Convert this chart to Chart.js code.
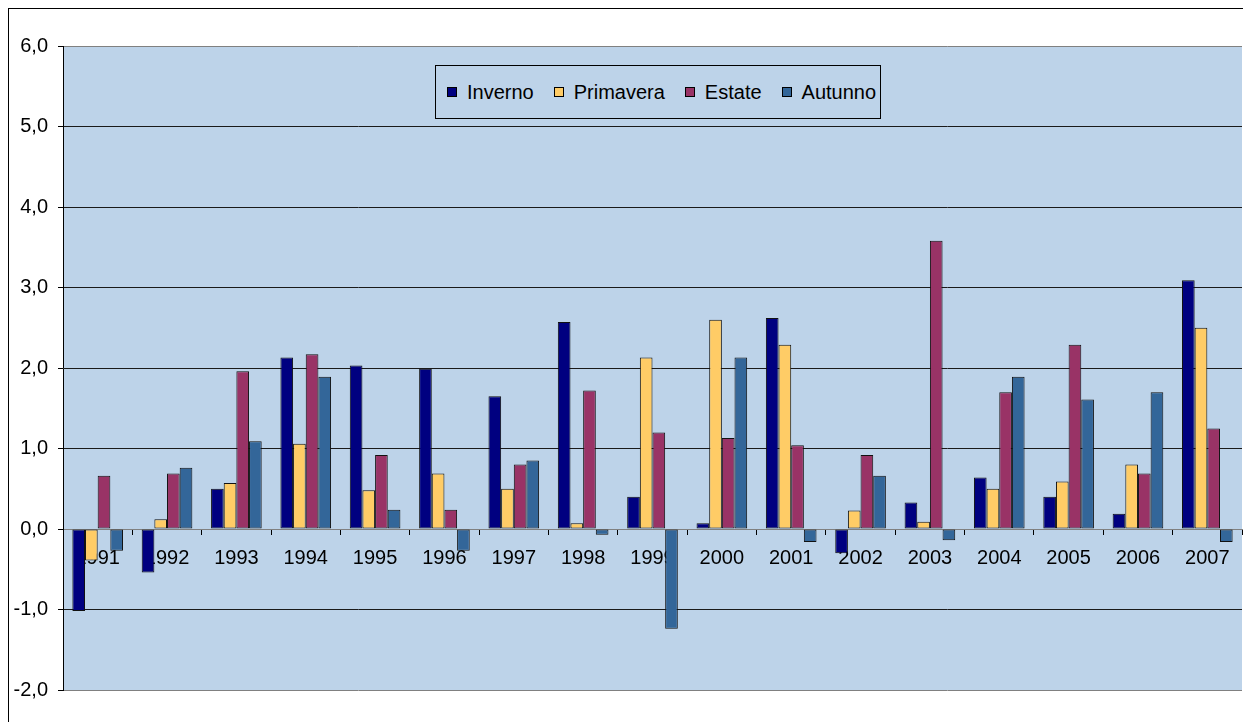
<!DOCTYPE html>
<html lang="it">
<head>
<meta charset="utf-8">
<title>Anomalie stagionali 1991-2007</title>
<script src="https://cdn.jsdelivr.net/npm/chart.js@4"></script>
<style>
  html, body { margin: 0; padding: 0; background: #fff; overflow: hidden; }
  #wrap { position: relative; width: 1243px; height: 722px; }
  #frame { position: absolute; left: 8px; top: 8px; width: 2000px; height: 2000px; border: 1px solid #000; box-sizing: border-box; }
  #chart { position: absolute; left: 0; top: 0; }
  #legend {
    position: absolute; left: 435px; top: 65px; width: 446px; height: 54px;
    box-sizing: border-box; border: 1px solid #000; background: #bdd3e9;
    display: flex; align-items: center; padding-left: 11px; gap: 20px;
    font: 20px "Liberation Sans", Arial, sans-serif; color: #000;
  }
  #legend .item { display: flex; align-items: center; gap: 10px; }
  #legend .sw { width: 10px; height: 10px; box-sizing: border-box; border: 1px solid #000; }
</style>
</head>
<body>
<div id="wrap">
  <div id="frame"></div>
  <canvas id="chart" width="1243" height="722"></canvas>
  <div id="legend"></div>
</div>
<script>
// --- Data ---
const years = ['1991', '1992', '1993', '1994', '1995', '1996', '1997', '1998', '1999',
  '2000', '2001', '2002', '2003', '2004', '2005', '2006', '2007'];

const inverno   = [-1.02, -0.54, 0.50, 2.13, 2.03, 1.99, 1.65, 2.57, 0.40, 0.07, 2.62, -0.30, 0.33, 0.64, 0.40, 0.19, 3.09];
const primavera = [-0.39, 0.12, 0.57, 1.06, 0.48, 0.69, 0.50, 0.07, 2.13, 2.60, 2.29, 0.23, 0.09, 0.50, 0.59, 0.80, 2.50];
const estate    = [0.66, 0.69, 1.96, 2.17, 0.92, 0.24, 0.80, 1.72, 1.20, 1.13, 1.04, 0.92, 3.58, 1.70, 2.29, 0.69, 1.25];
const autunno   = [-0.27, 0.76, 1.09, 1.89, 0.24, -0.27, 0.85, -0.07, -1.24, 2.13, -0.16, 0.66, -0.14, 1.89, 1.61, 1.70, -0.16];

const seriesNames = ['Inverno', 'Primavera', 'Estate', 'Autunno'];
const seriesColors = ['#000080', '#ffcc66', '#993366', '#336699'];

const yMin = -2;
const yMax = 6;

// --- Chart ---
const FONT = '"Liberation Sans", Arial, sans-serif';
const PLOT_BG = '#bdd3e9';

const plotBackground = {
  id: 'plotBackground',
  beforeDraw(chart) {
    const { ctx, chartArea: a } = chart;
    ctx.save();
    ctx.fillStyle = PLOT_BG;
    ctx.fillRect(a.left, a.top, a.right - a.left, a.bottom - a.top);
    ctx.restore();
  }
};

const allSeries = [inverno, primavera, estate, autunno];
const datasets = allSeries.map((data, i) => ({
  label: seriesNames[i],
  data: data,
  backgroundColor: seriesColors[i],
  borderColor: '#111',
  borderWidth: 1,
  borderSkipped: false,
  categoryPercentage: 0.73,
  barPercentage: 1
}));

new Chart(document.getElementById('chart'), {
  type: 'bar',
  data: { labels: years, datasets },
  plugins: [plotBackground],
  options: {
    responsive: false,
    animation: false,
    devicePixelRatio: 1,
    layout: { padding: { top: 46, right: 1, bottom: 32, left: 0 } },
    plugins: { legend: { display: false }, tooltip: { enabled: false } },
    scales: {
      x: {
        position: { y: 0 },
        grid: { display: true, offset: true, drawOnChartArea: false, drawTicks: true, tickLength: 5, tickColor: '#000' },
        border: { display: true, color: '#808080', width: 1 },
        ticks: { color: '#000', font: { family: FONT, size: 20 }, padding: 12, maxRotation: 0, autoSkip: false }
      },
      y: {
        min: yMin,
        max: yMax,
        afterFit(scale) { scale.width = 63; },
        grid: {
          color: ctx => (ctx.tick && (ctx.tick.value === 0 || ctx.tick.value === yMin || ctx.tick.value === yMax)) ? '#808080' : '#1a1a1a',
          tickColor: '#000',
          tickLength: 5,
          lineWidth: 1
        },
        border: { display: true, color: '#000', width: 1 },
        ticks: {
          stepSize: 1,
          padding: 10,
          color: '#000',
          font: { family: FONT, size: 20 },
          callback: v => v.toFixed(1).replace('.', ',')
        }
      }
    }
  }
});

// --- HTML legend ---
const legendEl = document.getElementById('legend');
seriesNames.forEach((name, i) => {
  const item = document.createElement('div');
  item.className = 'item';
  const sw = document.createElement('span');
  sw.className = 'sw';
  sw.style.background = seriesColors[i];
  const txt = document.createElement('span');
  txt.textContent = name;
  item.appendChild(sw);
  item.appendChild(txt);
  legendEl.appendChild(item);
});
</script>
</body>
</html>
